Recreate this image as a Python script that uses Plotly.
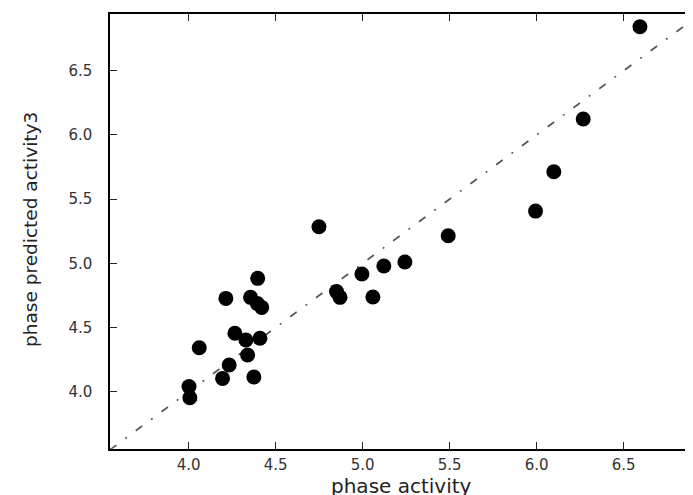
import plotly.graph_objects as go

# measured vs predicted activity
phase_activity = [6.594, 6.268, 6.099, 5.994, 5.492, 5.243, 5.122, 4.996, 5.059,
                  4.850, 4.870, 4.749, 4.002, 4.007, 4.061, 4.195, 4.233, 4.214,
                  4.266, 4.329, 4.410, 4.339, 4.375, 4.356, 4.394, 4.420, 4.397]
phase_predicted = [6.843, 6.124, 5.713, 5.407, 5.215, 5.010, 4.979, 4.917, 4.738,
                   4.780, 4.735, 5.285, 4.040, 3.953, 4.343, 4.104, 4.208, 4.727,
                   4.455, 4.403, 4.416, 4.286, 4.115, 4.735, 4.688, 4.657, 4.883]

x_range = [3.548, 6.899]
y_range = [3.554, 6.942]
x_ticks = [4.0, 4.5, 5.0, 5.5, 6.0, 6.5]
y_ticks = [4.0, 4.5, 5.0, 5.5, 6.0, 6.5]
tick_text = ["4.0", "4.5", "5.0", "5.5", "6.0", "6.5"]
x_title = "phase activity"
y_title = "phase predicted activity3"

# the page body has an 8px margin, so the figure is offset by 8px
PAGE_OFF = 8
W, H = 693 - PAGE_OFF, 495 - PAGE_OFF
ML, MT = 110 - PAGE_OFF, 14 - PAGE_OFF
plot_w, plot_h = 583, 435
MR = W - ML - plot_w
MB = H - MT - plot_h

fig = go.Figure()

# identity reference line y = x across the axes
diag = [min(x_range[0], y_range[0]), max(x_range[1], y_range[1])]
fig.add_trace(go.Scatter(
    x=diag, y=diag, mode="lines",
    line=dict(color="#555555", width=1.6, dash="8px,11px,2px,11px"),
    hoverinfo="skip", showlegend=False,
))

fig.add_trace(go.Scatter(
    x=phase_activity, y=phase_predicted, mode="markers",
    marker=dict(color="black", size=15, line=dict(width=0)),
    showlegend=False,
))

axis_common = dict(
    showgrid=False, zeroline=False, showline=True, linecolor="black",
    linewidth=1.5, ticks="inside", ticklen=7, tickwidth=1, tickcolor="#222",
    mirror="ticks", automargin=False,
    tickfont=dict(family="DejaVu Sans", size=15, color="#333"),
)

fig.update_layout(
    width=W, height=H,
    margin=dict(l=ML, r=MR, t=MT, b=MB),
    paper_bgcolor="white", plot_bgcolor="white",
    xaxis=dict(range=x_range, tickvals=x_ticks, ticktext=tick_text,
               ticklabelstandoff=1, **axis_common),
    yaxis=dict(range=y_range, tickvals=y_ticks, ticktext=tick_text,
               ticklabelstandoff=13, **axis_common),
    annotations=[
        dict(text=x_title, xref="paper", yref="paper", x=0.5,
             y=-(486 - 449) / plot_h, xanchor="center", yanchor="middle",
             showarrow=False, borderpad=0,
             font=dict(family="DejaVu Sans", size=20, color="#222")),
        dict(text=y_title, xref="paper", yref="paper",
             x=-(110 - 30) / plot_w, y=0.5 + (231.5 - 230) / plot_h,
             xanchor="center", yanchor="middle", textangle=-90, showarrow=False,
             font=dict(family="DejaVu Sans", size=18.5, color="#222")),
    ],
)

fig.write_html("out.html")
